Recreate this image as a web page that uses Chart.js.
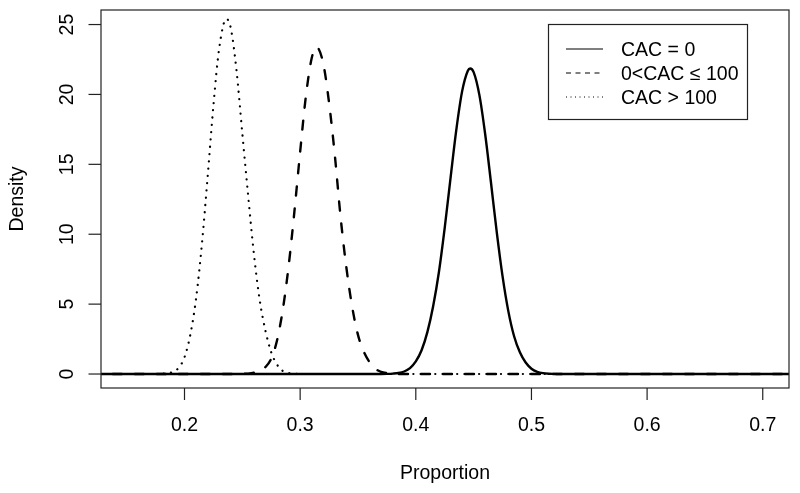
<!DOCTYPE html>
<html>
<head>
<meta charset="utf-8">
<script src="https://cdn.jsdelivr.net/npm/chart.js@4.4.1/dist/chart.umd.min.js"></script>
<style>
  html, body { margin: 0; padding: 0; background: #fff; }
  #wrap { position: relative; width: 800px; height: 493px; }
</style>
</head>
<body>
<div id="wrap"><canvas id="densityChart"></canvas></div>
<script>
  // ==================== Data ====================

  // CAC = 0  (solid)
  const propCac0 = [0.10, 0.370, 0.375, 0.380, 0.385, 0.390, 0.395, 0.400, 0.405, 0.410,
    0.415, 0.420, 0.425, 0.430, 0.435, 0.440, 0.445, 0.447, 0.450, 0.455,
    0.460, 0.465, 0.470, 0.475, 0.480, 0.485, 0.490, 0.495, 0.500, 0.505,
    0.510, 0.515, 0.520, 0.525, 0.75];
  const densCac0 = [0, 0, 0.01, 0.03, 0.07, 0.18, 0.42, 0.9, 1.7, 3.0,
    4.85, 7.3, 10.45, 14.0, 17.45, 20.2, 21.7, 21.86, 21.6, 19.95,
    17.15, 13.7, 10.15, 7.0, 4.5, 2.7, 1.55, 0.82, 0.38, 0.16,
    0.06, 0.02, 0.01, 0, 0];

  // 0 < CAC <= 100  (dashed)
  const propCacMid = [0.10, 0.245, 0.250, 0.255, 0.260, 0.265, 0.270, 0.275, 0.280, 0.285,
    0.290, 0.295, 0.300, 0.305, 0.310, 0.314, 0.320, 0.325, 0.330, 0.335,
    0.340, 0.345, 0.350, 0.355, 0.360, 0.365, 0.370, 0.375, 0.380, 0.385,
    0.75];
  const densCacMid = [0, 0, 0.01, 0.03, 0.09, 0.22, 0.5, 1.1, 2.4, 4.6,
    7.7, 11.6, 15.9, 19.9, 22.6, 23.4, 22.2, 19.4, 15.65, 11.2,
    7.6, 4.8, 2.8, 1.6, 0.85, 0.38, 0.15, 0.06, 0.02, 0,
    0];

  // CAC > 100  (dotted)
  const propCacHigh = [0.10, 0.175, 0.180, 0.185, 0.190, 0.195, 0.200, 0.205, 0.210, 0.215,
    0.220, 0.225, 0.230, 0.2362, 0.240, 0.245, 0.250, 0.255, 0.260, 0.265,
    0.270, 0.275, 0.280, 0.285, 0.290, 0.295, 0.300, 0.75];
  const densCacHigh = [0, 0, 0.02, 0.06, 0.15, 0.45, 1.2, 2.8, 5.4, 9.25,
    14.1, 19.2, 23.3, 25.4, 24.75, 21.7, 17.2, 12.8, 8.6, 5.3,
    3.1, 1.55, 0.68, 0.22, 0.07, 0.02, 0, 0];

  const xTicks = [0.2, 0.3, 0.4, 0.5, 0.6, 0.7];
  const xTickLabels = ['0.2', '0.3', '0.4', '0.5', '0.6', '0.7'];
  const yTicks = [0, 5, 10, 15, 20, 25];
  const yTickLabels = ['0', '5', '10', '15', '20', '25'];
  const legendLabels = ['CAC = 0', '0<CAC \u2264 100', 'CAC > 100'];

  // ==================== Helpers ====================

  const FONT = '19.5px "Liberation Sans", Arial, Helvetica, sans-serif';

  function toPoints(xs, ys) {
    return xs.map((v, i) => ({ x: v, y: ys[i] }));
  }

  function lineDataset(label, xs, ys, dash, width) {
    return {
      label: label,
      data: toPoints(xs, ys),
      borderColor: '#000',
      borderWidth: width,
      borderDash: dash,
      borderCapStyle: 'round',
      cubicInterpolationMode: 'monotone',
      pointRadius: 0,
      fill: false,
      clip: 0
    };
  }

  // R-style frame, ticks, axis titles and legend
  const rFrame = {
    id: 'rFrame',
    afterDraw(chart) {
      const ctx = chart.ctx;
      const a = chart.chartArea;
      const xs = chart.scales.x;
      const ys = chart.scales.y;

      ctx.save();
      ctx.strokeStyle = '#222';
      ctx.lineWidth = 1.2;
      ctx.setLineDash([]);
      ctx.strokeRect(a.left, a.top, a.right - a.left, a.bottom - a.top);

      ctx.font = FONT;
      ctx.fillStyle = '#000';
      ctx.textAlign = 'center';
      ctx.textBaseline = 'alphabetic';

      // x axis
      xTicks.forEach((v, i) => {
        const px = xs.getPixelForValue(v);
        ctx.beginPath();
        ctx.moveTo(px, a.bottom);
        ctx.lineTo(px, a.bottom + 12);
        ctx.stroke();
        ctx.fillText(xTickLabels[i], px, a.bottom + 43);
      });

      // y axis
      yTicks.forEach((v, i) => {
        const py = ys.getPixelForValue(v);
        ctx.beginPath();
        ctx.moveTo(a.left - 12.5, py);
        ctx.lineTo(a.left, py);
        ctx.stroke();
        ctx.save();
        ctx.translate(73, py);
        ctx.rotate(-Math.PI / 2);
        ctx.fillText(yTickLabels[i], 0, 0);
        ctx.restore();
      });

      // axis titles
      ctx.fillText('Proportion', (a.left + a.right) / 2, 479);
      ctx.save();
      ctx.translate(23, (a.top + a.bottom) / 2);
      ctx.rotate(-Math.PI / 2);
      ctx.fillText('Density', 0, 0);
      ctx.restore();

      // legend
      ctx.strokeRect(548.5, 24.5, 199, 95);
      const rows = [49, 73, 97];
      const dashes = [[], [5, 4.5], [1, 3.5]];
      ctx.textAlign = 'left';
      rows.forEach((ry, i) => {
        ctx.save();
        ctx.strokeStyle = '#000';
        ctx.lineWidth = 1.1;
        ctx.setLineDash(dashes[i]);
        ctx.beginPath();
        ctx.moveTo(566, ry);
        ctx.lineTo(603, ry);
        ctx.stroke();
        ctx.restore();
        ctx.fillText(legendLabels[i], 621, ry + 7);
      });

      ctx.restore();
    }
  };

  // ==================== Chart ====================

  const chart = new Chart(document.getElementById('densityChart').getContext('2d'), {
    type: 'line',
    data: {
      datasets: [
        lineDataset(legendLabels[0], propCac0, densCac0, [], 2.4),
        lineDataset(legendLabels[1], propCacMid, densCacMid, [9, 13], 2.4),
        lineDataset(legendLabels[2], propCacHigh, densCacHigh, [0.1, 7.2], 2.2)
      ]
    },
    options: {
      responsive: true,
      maintainAspectRatio: false,
      animation: false,
      events: [],
      layout: { padding: { left: 101, right: 11, top: 10, bottom: 105 } },
      plugins: {
        legend: { display: false },
        tooltip: { enabled: false }
      },
      scales: {
        x: { type: 'linear', min: 0.1278, max: 0.7227, display: false },
        y: { type: 'linear', min: -1.0, max: 26.04, display: false }
      }
    },
    plugins: [rFrame]
  });
</script>
</body>
</html>
